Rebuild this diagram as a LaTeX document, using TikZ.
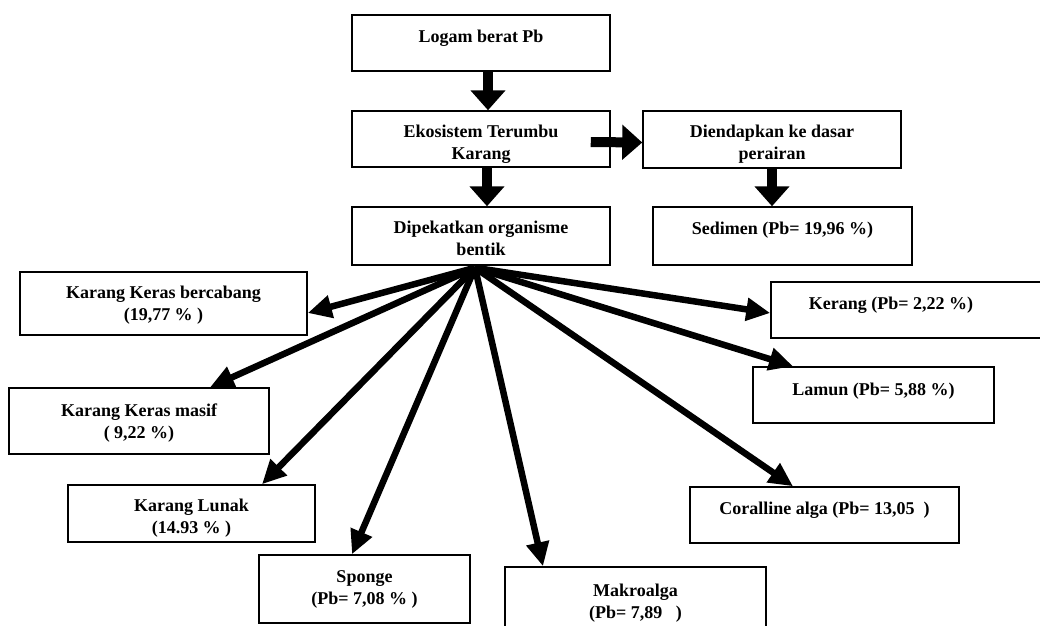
\documentclass[tikz,border=0pt]{standalone}
\usepackage{fontspec}
\setmainfont{Liberation Serif}
\usetikzlibrary{arrows.meta,positioning}

\tikzset{
  box/.style={rectangle, draw=black, line width=1.5pt, inner sep=0pt},
  boxtext/.style={font=\bfseries\fontsize{18}{22}\selectfont,
    align=center, anchor=north, inner sep=0pt},
  bigarrow/.style={line width=10pt, -{Triangle[length=20pt,width=34pt]}},
  fanarrow/.style={line width=6.5pt, -{Triangle[length=24pt,width=22pt]}},
}

\begin{document}
\begin{tikzpicture}[x=1pt, y=-1pt]
  \useasboundingbox (0,0) rectangle (1040,625);
  \clip (0,0) rectangle (1040,625);

% upper chain
  \node[box, minimum width=258pt, minimum height=56pt] (logam) at (481,43) {};
  \node[boxtext, below=16pt of logam.north] (logamtxt) {Logam berat Pb};

  \node[box, minimum width=258pt, minimum height=56pt] (eko) at (481,139) {};
  \node[boxtext, below=15pt of eko.north] (ekotxt) {Ekosistem Terumbu\\Karang};

  \node[box, minimum width=258pt, minimum height=57pt] (dien) at (772,139.5) {};
  \node[boxtext, below=15pt of dien.north] (dientxt) {Diendapkan ke dasar\\perairan};

  \node[box, minimum width=259pt, minimum height=58pt] (sedimen) at (782.5,236) {};
  \node[boxtext, below=16pt of sedimen.north] (sedimentxt) {Sedimen (Pb= 19,96 \%)};

  \node[box, minimum width=258pt, minimum height=58pt] (dipek) at (481,236) {};
  \node[boxtext, below=15pt of dipek.north] (dipektxt) {Dipekatkan organisme\\bentik};

% left side
  \node[box, minimum width=287pt, minimum height=63pt] (kkb) at (163.5,303.5) {};
  \node[boxtext, below=15pt of kkb.north] (kkbtxt) {Karang Keras bercabang\\(19,77 \% )};

  \node[box, minimum width=260pt, minimum height=66pt] (kkm) at (139,421) {};
  \node[boxtext, below=16pt of kkm.north] (kkmtxt) {Karang Keras masif\\( 9,22 \%)};

  \node[box, minimum width=247pt, minimum height=57pt] (lunak) at (191.5,513.5) {};
  \node[boxtext, below=15pt of lunak.north] (lunaktxt) {Karang Lunak\\(14.93 \% )};

  \node[box, minimum width=211pt, minimum height=68pt] (sponge) at (364.5,589) {};
  \node[boxtext, below=16pt of sponge.north] (spongetxt) {Sponge\\(Pb= 7,08 \% )};

% right side
  \node[box, minimum width=261pt, minimum height=73pt] (makro) at (635.5,603.5) {};
  \node[boxtext, below=18pt of makro.north] (makrotxt) {Makroalga\\(Pb= 7,89 \ \ )};

  \node[box, minimum width=269pt, minimum height=56pt] (coral) at (824.5,515) {};
  \node[boxtext, below=16pt of coral.north] (coraltxt) {Coralline alga (Pb= 13,05 \ )};

  \node[box, minimum width=241pt, minimum height=56pt] (lamun) at (873.5,395) {};
  \node[boxtext, below=17pt of lamun.north] (lamuntxt) {Lamun (Pb= 5,88 \%)};

  \node[box, minimum width=275pt, minimum height=56pt] (kerang) at (908.5,310) {};
  \node[boxtext, below=16pt of kerang.north, xshift=-17.5pt] (kerangtxt) {Kerang (Pb= 2,22 \%)};

% arrows
  \draw[bigarrow] ([xshift=7pt]logam.south) -- ([xshift=7pt]eko.north);
  \draw[bigarrow] ([xshift=6pt]eko.south) -- ([xshift=6pt]dipek.north);
  \draw[bigarrow] ([xshift=-20pt,yshift=-3pt]eko.east) -- ([yshift=-3pt]dien.west);
  \draw[bigarrow] (dien.south) -- (dien.south |- sedimen.north);

  \coordinate (hub) at ([xshift=-6pt,yshift=-2pt]dipek.south);
  \draw[fanarrow] (hub) -- ([yshift=-9.5pt]kkb.east);
  \draw[fanarrow] (hub) -- ([xshift=71pt]kkm.north);
  \draw[fanarrow] (hub) -- ([xshift=70.5pt]lunak.north);
  \draw[fanarrow] (hub) -- ([xshift=-12.5pt]sponge.north);
  \draw[fanarrow] (hub) -- ([xshift=-92.5pt]makro.north);
  \draw[fanarrow] (hub) -- ([xshift=-31.5pt]coral.north);
  \draw[fanarrow] (hub) -- ([xshift=-80.5pt]lamun.north);
  \draw[fanarrow] (hub) -- ([yshift=-3pt]kerang.west);
\end{tikzpicture}
\end{document}
